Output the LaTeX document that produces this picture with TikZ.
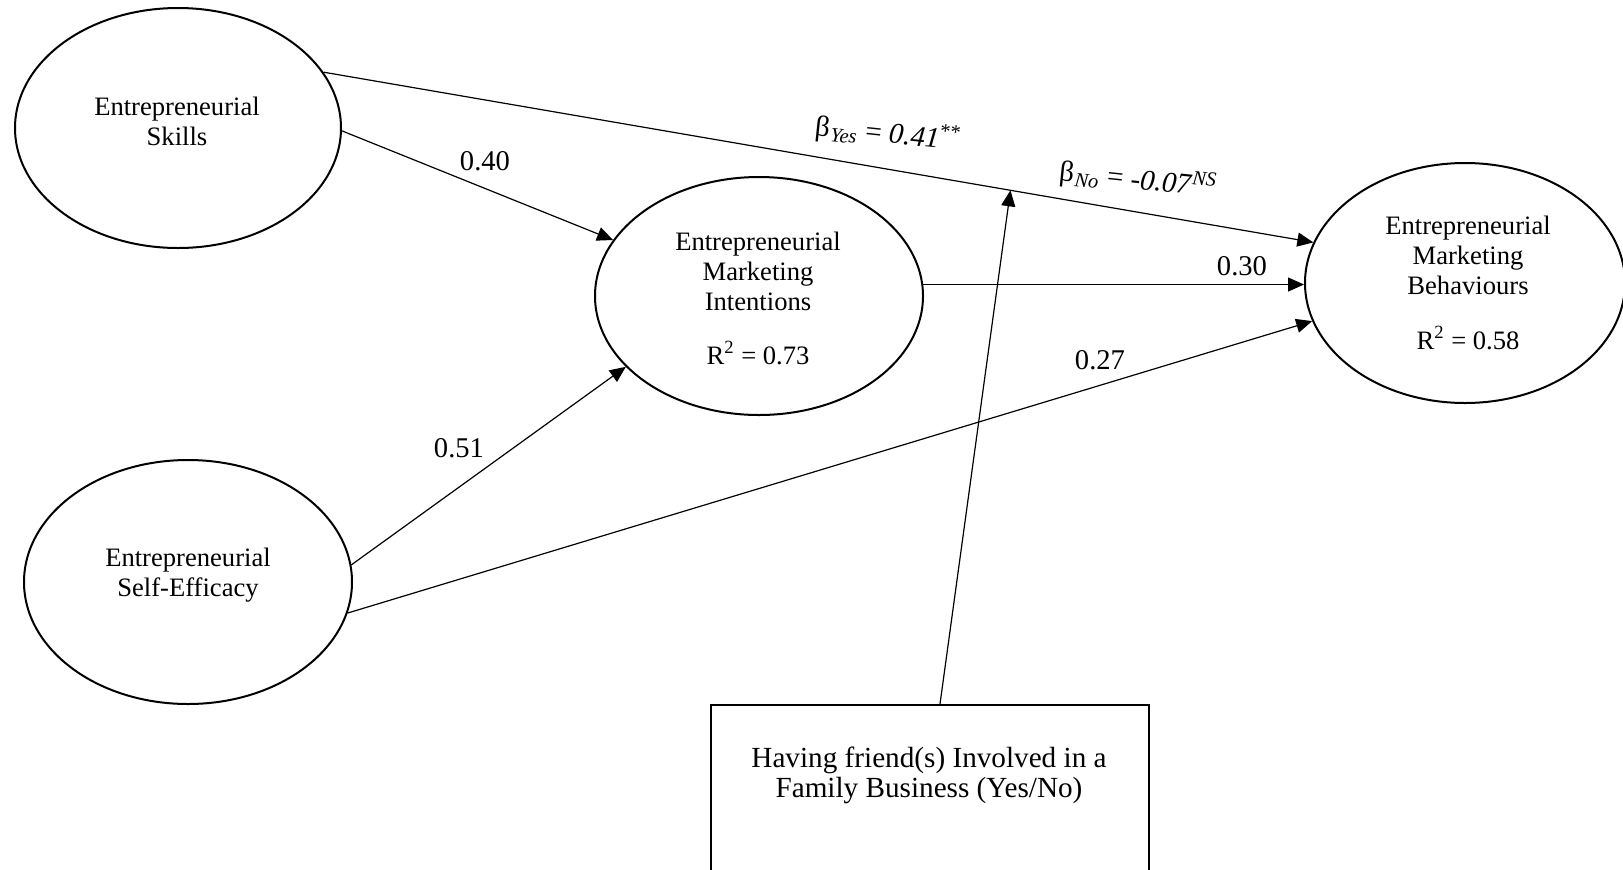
\documentclass[tikz,border=0pt]{standalone}
\usepackage{fontspec}
\setmainfont{Liberation Serif}
\usetikzlibrary{shapes.geometric,arrows.meta}
\tikzset{
  latent/.style={ellipse,draw,line width=1pt,inner sep=0pt},
  eltext/.style={align=center,font=\fontsize{13.3}{15}\selectfont,inner sep=0pt},
  coef/.style={font=\fontsize{14.3}{16}\selectfont,inner sep=0pt},
  betalab/.style={font=\fontsize{14.5}{16}\selectfont,inner sep=0pt,rotate=-6},
  path/.style={draw,line width=0.6pt,-{Triangle[length=8pt,width=7pt]}},
  modbox/.style={rectangle,draw,line width=1pt,minimum width=219pt,minimum height=100pt,inner sep=0pt}
}
\begin{document}
\begin{tikzpicture}[x=0.5pt,y=-0.5pt]
\useasboundingbox (0,0) rectangle (1623,869);
% latent variables
\node[latent,minimum width=163pt,minimum height=120pt] (es) at (178,128) {};
\node[latent,minimum width=164pt,minimum height=119pt] (emi) at (759,296) {};
\node[latent,minimum width=160pt,minimum height=120pt] (emb) at (1465,283) {};
\node[latent,minimum width=164pt,minimum height=122pt] (ese) at (188,582) {};
\node[modbox] (fam) at (930,805) {};
% texts
\node[eltext] (tes) at (177,121) {Entrepreneurial\\Skills};
\node[eltext] (temi) at (758,271) {Entrepreneurial\\Marketing\\Intentions};
\node[eltext] (remi) at (758,353) {R\textsuperscript{2} = 0.73};
\node[eltext] (temb) at (1468,255) {Entrepreneurial\\Marketing\\Behaviours};
\node[eltext] (remb) at (1468,338) {R\textsuperscript{2} = 0.58};
\node[eltext] (tese) at (188,575) {Entrepreneurial\\Self-Efficacy};
\node[align=center,font=\fontsize{14.6}{15}\selectfont,inner sep=0pt] (tfam) at (929,775) {Having friend(s) Involved in a\\Family Business (Yes/No)};
% paths
\path[path] (es.-1) -- (emi.159.6);
\path[path] (es.21.5) -- (emb.165.4) coordinate[pos=0.694] (mod);
\path[path] (ese.6.3) -- (emi.208.3);
\path[path] (ese.-11) -- (emb.194.5);
\path[path] (emi.4.6) -- (emi.4.6 -| emb.west);
\path[path] ([xshift=5pt]fam.north) -- (mod);
% coefficients
\node[coef] (c1) at (485,161) {0.40};
\node[coef] (c2) at (459,448) {0.51};
\node[coef] (c3) at (1242,266) {0.30};
\node[coef] (c4) at (1100,360) {0.27};
\node[betalab] (byes) at (888,134) {β\kern0.6pt\textsubscript{\itshape Yes} = \textit{0.41}\textsuperscript{**}};
\node[betalab] (bno) at (1138,180) {β\kern0.6pt\textsubscript{\itshape No} = \textit{-0.07}\textsuperscript{\itshape NS}};
\end{tikzpicture}
\end{document}
